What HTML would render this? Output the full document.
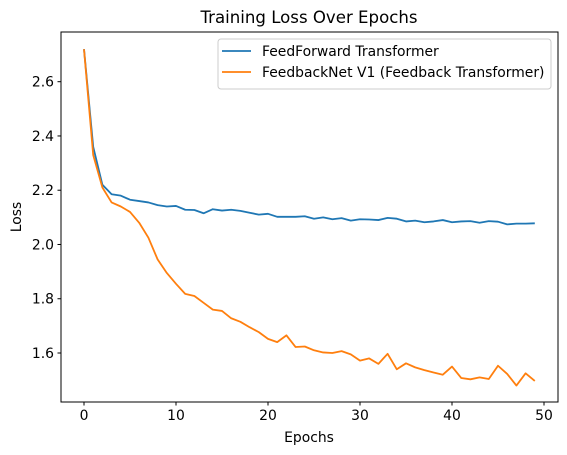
<!DOCTYPE html>
<html><head><meta charset="utf-8"><style>
body{margin:0;background:#fff;}
svg{display:block;font-family:"DejaVu Sans","Liberation Sans",sans-serif;}
</style></head><body>
<svg id="chart" width="567" height="455" viewBox="0 0 567 455" xmlns="http://www.w3.org/2000/svg">
<rect width="567" height="455" fill="#fff"/>
<text x="309" y="23" font-size="16.6" text-anchor="middle" fill="#000">Training Loss Over Epochs</text>
<g id="plot"></g>
<rect x="61" y="32" width="497" height="370" fill="none" stroke="#000" stroke-width="1"/>
<text x="309" y="442" font-size="13.9" text-anchor="middle">Epochs</text>
<text x="21" y="217" font-size="13.9" text-anchor="middle" transform="rotate(-90 21 217)">Loss</text>
<g>
<rect x="218" y="39" width="333" height="50" rx="3" fill="#fff" fill-opacity="0.8" stroke="#ccc"/>
<line x1="222" y1="51" x2="251" y2="51" stroke="#1f77b4" stroke-width="1.8"/>
<text x="262" y="56" font-size="13.9">FeedForward Transformer</text>
<line x1="222" y1="72" x2="251" y2="72" stroke="#ff7f0e" stroke-width="1.8"/>
<text x="262" y="77" font-size="13.9">FeedbackNet V1 (Feedback Transformer)</text>
</g>
</svg>
<script>
const epochs = Array.from({length:50},(_,i)=>i);
const feedForward = [2.72,2.36,2.22,2.185,2.18,2.165,2.16,2.155,2.145,2.14,2.142,2.128,2.127,2.115,2.13,2.125,2.128,2.124,2.117,2.11,2.113,2.102,2.102,2.102,2.104,2.095,2.1,2.093,2.097,2.088,2.093,2.092,2.09,2.098,2.095,2.085,2.088,2.082,2.085,2.09,2.082,2.085,2.086,2.08,2.086,2.084,2.074,2.077,2.077,2.078];
const feedback = [2.72,2.33,2.21,2.155,2.14,2.12,2.08,2.025,1.945,1.895,1.855,1.818,1.81,1.785,1.76,1.755,1.728,1.715,1.695,1.677,1.652,1.64,1.665,1.622,1.624,1.61,1.602,1.6,1.607,1.595,1.572,1.58,1.56,1.597,1.54,1.562,1.547,1.537,1.528,1.52,1.55,1.508,1.503,1.51,1.504,1.553,1.523,1.48,1.525,1.497];
const xTicks = [0,10,20,30,40,50];
const yTicks = [1.6,1.8,2.0,2.2,2.4,2.6];

const NS="http://www.w3.org/2000/svg";
const plot=document.getElementById('plot');
function xS(v){return 84+v*(544-84)/50;}
function yS(v){return 353-(v-1.6)*271.3;}
function mk(tag,attrs){const e=document.createElementNS(NS,tag);for(const k in attrs)e.setAttribute(k,attrs[k]);plot.appendChild(e);return e;}

xTicks.forEach(t=>{
  const l=mk('line',{x1:xS(t),x2:xS(t),y1:402,y2:405.5,stroke:'#000'});
  
  
  const tx=mk('text',{x:xS(t),y:420,'font-size':13.9,'text-anchor':'middle'});
  tx.textContent=t;
  
  
});
yTicks.forEach(t=>{
  const l=mk('line',{x1:57.5,x2:61,y1:yS(t),y2:yS(t),stroke:'#000'});
  
  
  const tx=mk('text',{x:54,y:yS(t)+5,'font-size':13.9,'text-anchor':'end'});
  tx.textContent=t.toFixed(1);
  
  
});
function line(data,color,name){
  const p=mk('polyline',{points:data.map((v,i)=>xS(epochs[i])+','+yS(v)).join(' '),fill:'none',stroke:color,'stroke-width':1.8,'stroke-linejoin':'round'});
  
  
}
line(feedForward,'#1f77b4','feedforward-line');
line(feedback,'#ff7f0e','feedback-line');
</script>
</body></html>
